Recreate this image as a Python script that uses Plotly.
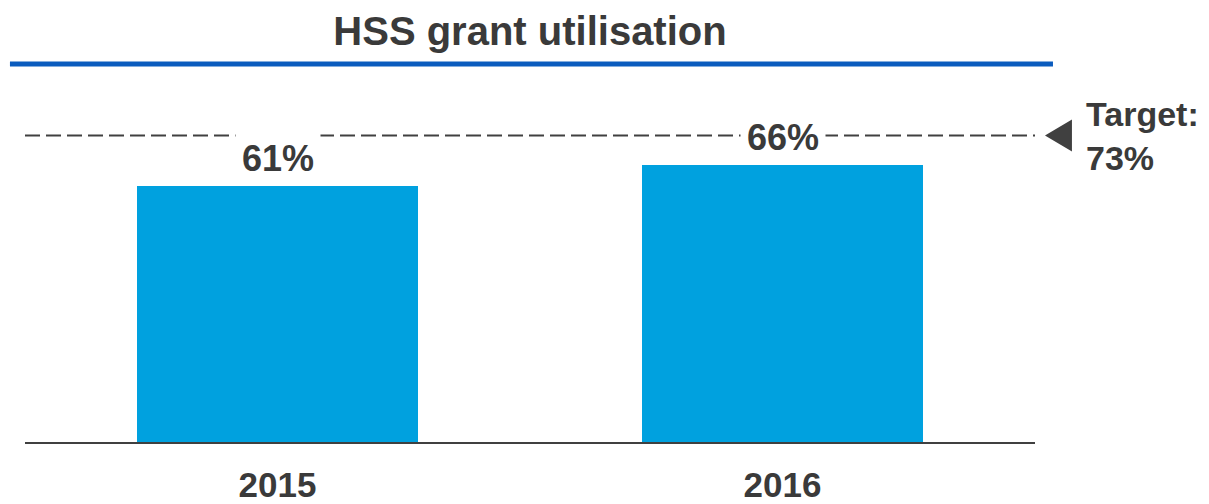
import plotly.graph_objects as go

years = ["2015", "2016"]
utilisation = [61, 66]
target = 73
title_text = "HSS grant utilisation"

TXT = "#3a3a3a"
FONT = "Liberation Sans, Arial, sans-serif"

fig = go.Figure()
fig.add_trace(go.Bar(
    x=years, y=utilisation,
    marker=dict(color="#00A1DF", line=dict(width=0)),
    width=0.555,
    hoverinfo="skip",
))

# value labels with white background (interrupt dashed target line)
for i, v in enumerate(utilisation):
    fig.add_annotation(
        x=i, y=v, xref="x", yref="y",
        text=f"<b>{v}%</b>", showarrow=False,
        yanchor="bottom", yshift=0,
        font=dict(family=FONT, size=36, color=TXT),
        bgcolor="white", borderpad=6,
    )

# target dashed line
fig.add_shape(type="line", xref="paper", yref="y",
              x0=0, x1=1, y0=target, y1=target,
              line=dict(color="#404040", width=2, dash="15px,6px"),
              layer="below")

# triangle marker pointing left
h = 3.8
fig.add_shape(type="path", xref="paper", yref="y",
              path=f"M 1.0099 {target} L 1.0366 {target + h} L 1.0366 {target - h} Z",
              fillcolor="#404040", line=dict(width=0))

fig.add_annotation(
    xref="paper", yref="y", x=1.049, y=target,
    text=f"<b>Target:<br>{target}%</b>", showarrow=False,
    xanchor="left", yanchor="middle", align="left",
    font=dict(family=FONT, size=34, color=TXT),
)

# blue rule under title
fig.add_shape(type="line", xref="paper", yref="paper",
              x0=-0.0149, x1=1.0178, y0=1.0161, y1=1.0161,
              line=dict(color="#0B5CBE", width=5))

fig.update_layout(
    width=1201, height=496,
    margin=dict(l=17, r=174, t=62, b=62, autoexpand=False),
    paper_bgcolor="white", plot_bgcolor="white",
    showlegend=False,
    bargap=0,
    title=dict(text=f"<b>{title_text}</b>", x=(17 + 505) / 1201, xanchor="center",
               y=1 - 23 / 496, yanchor="middle",
               font=dict(family=FONT, size=40, color=TXT)),
    xaxis=dict(
        type="category", range=[-0.5, 1.5],
        tickvals=years, ticktext=[f"<b>{y}</b>" for y in years],
        tickfont=dict(family=FONT, size=35, color=TXT),
        showline=True, linecolor="#404040", linewidth=2,
        ticks="", showgrid=False, zeroline=False,
        ticklabelstandoff=11, automargin=False,
    ),
    yaxis=dict(range=[0, 88.6], visible=False, showgrid=False, zeroline=False),
)

fig.write_html("out.html")
